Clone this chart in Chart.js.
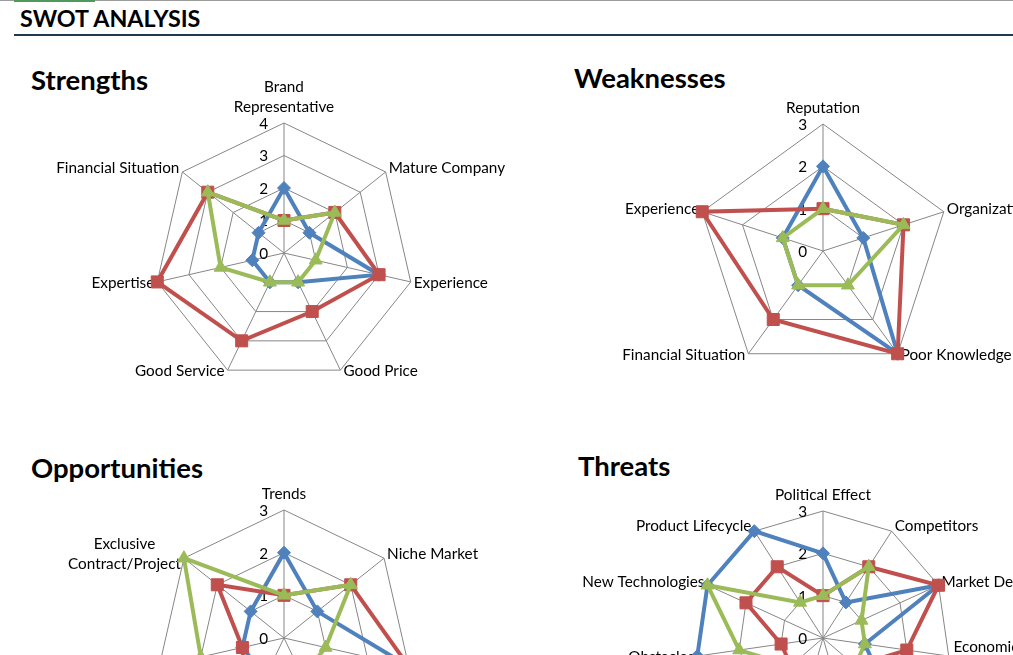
<!DOCTYPE html>
<html>
<head>
<meta charset="utf-8">
<title>SWOT Analysis</title>
<script src="https://cdn.jsdelivr.net/npm/chart.js@4.4.1/dist/chart.umd.min.js"></script>
<style>
  html, body { margin: 0; padding: 0; background: #fff; }
  body { width: 1013px; height: 655px; overflow: hidden; position: relative; font-family: Lato, "Noto Sans", sans-serif; color: #000; }
  .topline { position: absolute; left: 0; top: 0; width: 1013px; height: 1px; background: #9c9c9c; }
  .tab { position: absolute; left: 14px; top: 0; width: 81px; height: 2px; background: #4f9a5a; }
  .header { position: absolute; left: 20px; top: 6.6px; font-size: 23.3px; font-weight: bold; line-height: 1; white-space: nowrap; }
  .rule { position: absolute; left: 14px; top: 34px; width: 999px; height: 2px; background: #1f3a4d; }
  .title { position: absolute; font-size: 27.5px; font-weight: bold; line-height: 1; white-space: nowrap; }
  canvas { position: absolute; }
</style>
</head>
<body>
<div class="topline"></div>
<div class="tab"></div>
<div class="header">SWOT ANALYSIS</div>
<div class="rule"></div>
<div class="title" style="left:31px; top:66.3px;">Strengths</div>
<div class="title" style="left:574px; top:64px;">Weaknesses</div>
<div class="title" style="left:31px; top:454px;">Opportunities</div>
<div class="title" style="left:578px; top:452.3px;">Threats</div>

<script>
// series (same three in every chart)
const seriesNames = ["Series1", "Series2", "Series3"];
const seriesColors = ["#4F81BD", "#C0504D", "#9BBB59"];
const seriesMarkers = ["rectRot", "rect", "triangle"];
const markerRadius = [6.5, 8.5, 7.5];

// Strengths
const strengthLabels = [["Brand", "Representative"], "Mature Company", "Experience", "Good Price", "Good Service", "Expertise", "Financial Situation"];
const strengthS1 = [2, 1, 3, 1, 1, 1, 1];
const strengthS2 = [1, 2, 3, 2, 3, 4, 3];
const strengthS3 = [1, 2, 1, 1, 1, 2, 3];
const strengthTicks = [0, 1, 2, 3, 4];

// Weaknesses
const weaknessLabels = ["Reputation", "Organization", "Poor Knowledge", "Financial Situation", "Experience"];
const weaknessS1 = [2, 1, 3, 1, 1];
const weaknessS2 = [1, 2, 3, 2, 3];
const weaknessS3 = [1, 2, 1, 1, 1];
const weaknessTicks = [0, 1, 2, 3];

// Opportunities
const opportunityLabels = ["Trends", "Niche Market", "New Products", "Partnerships", "Expansion", "Online Presence", ["Exclusive", "Contract/Project"]];
const opportunityS1 = [2, 1, 3, 2, 1, 1, 1];
const opportunityS2 = [1, 2, 3, 2, 2, 1, 2];
const opportunityS3 = [1, 2, 1, 1, 1, 2, 3];
const opportunityTicks = [0, 1, 2, 3];

// Threats
const threatLabels = ["Political Effect", "Competitors", "Market Demand", ["Economic", "Downturn"], "Regulations", "Supplier Power", "Customer Loyalty", "Cost Increase", "Obstacles", "New Technologies", "Product Lifecycle"];
const threatS1 = [2, 1, 3, 1, 2, 1, 2, 2, 3, 3, 3];
const threatS2 = [1, 2, 3, 2, 1, 2, 1, 1, 1, 2, 2];
const threatS3 = [1, 2, 1, 1, 1, 2, 1, 1, 2, 3, 1];
const threatTicks = [0, 1, 2, 3];

// Excel-like value and category labels, placed from the radial scale
const labelPlugin = {
  id: "excelLabels",
  beforeDatasetsDraw(chart, args, opts) {
    const r = chart.scales.r;
    const ctx = chart.ctx;
    ctx.save();
    ctx.fillStyle = "#000";
    ctx.font = opts.font;
    ctx.textBaseline = "middle";
    ctx.textAlign = "right";
    r.ticks.forEach(t => {
      const d = r.getDistanceFromCenterForValue(t.value);
      ctx.fillText(t.label, r.xCenter - 16, r.yCenter - d + 1);
    });
    const lh = opts.lineHeight;
    ctx.textAlign = "center";
    chart.data.labels.forEach((lab, i) => {
      const lines = Array.isArray(lab) ? lab : [lab];
      const p = r.getPointPosition(i, r.drawingArea);
      const a = r.getIndexAngle(i);
      const s = Math.sin(a), c = Math.cos(a);
      const bw = Math.max(...lines.map(l => ctx.measureText(l).width));
      let midX, firstY;
      if (Math.abs(s) < 0.05) {
        midX = p.x;
        firstY = c > 0 ? p.y - 16 - (lines.length - 1) * lh : p.y + 16;
      } else {
        midX = s > 0 ? p.x + 3 + bw / 2 : p.x - 3 - bw / 2;
        const cy = p.y + (c > 0 ? -(1 + 4.5 * c) : 1);
        firstY = cy - (lines.length - 1) * lh / 2;
      }
      lines.forEach((l, k) => ctx.fillText(l, midX, firstY + k * lh));
    });
    ctx.restore();
  }
};

const PAD = 140;

function makeRadar(labels, series, ticks, cx, cy, R) {
  const size = 2 * R + 2 * PAD;
  const canvas = document.createElement("canvas");
  canvas.width = size;
  canvas.height = size;
  canvas.style.left = (cx - R - PAD) + "px";
  canvas.style.top = (cy - R - PAD) + "px";
  document.body.appendChild(canvas);

  new Chart(canvas, {
    type: "radar",
    data: {
      labels: labels,
      datasets: series.map((vals, k) => ({
        label: seriesNames[k],
        data: vals,
        borderColor: seriesColors[k],
        backgroundColor: seriesColors[k],
        pointBackgroundColor: seriesColors[k],
        pointBorderColor: seriesColors[k],
        pointStyle: seriesMarkers[k],
        pointRadius: markerRadius[k],
        pointBorderWidth: 1,
        borderWidth: 4,
        fill: false,
        tension: 0,
        clip: false,
        order: 3 - k
      }))
    },
    options: {
      responsive: false,
      animation: false,
      layout: { padding: PAD },
      plugins: {
        legend: { display: false },
        tooltip: { enabled: false },
        excelLabels: { font: "15.3px Lato", lineHeight: 20 }
      },
      scales: {
        r: {
          min: ticks[0],
          max: ticks[ticks.length - 1],
          ticks: { stepSize: 1, display: false },
          pointLabels: { display: false },
          grid: { color: "#868686", lineWidth: 1 },
          angleLines: { color: "#868686", lineWidth: 1 }
        }
      }
    },
    plugins: [labelPlugin]
  });
}

makeRadar(strengthLabels, [strengthS1, strengthS2, strengthS3], strengthTicks, 284, 253, 130);
makeRadar(weaknessLabels, [weaknessS1, weaknessS2, weaknessS3], weaknessTicks, 823, 251, 127);
makeRadar(opportunityLabels, [opportunityS1, opportunityS2, opportunityS3], opportunityTicks, 284, 638, 128);
makeRadar(threatLabels, [threatS1, threatS2, threatS3], threatTicks, 823, 638, 127);
</script>
</body>
</html>
